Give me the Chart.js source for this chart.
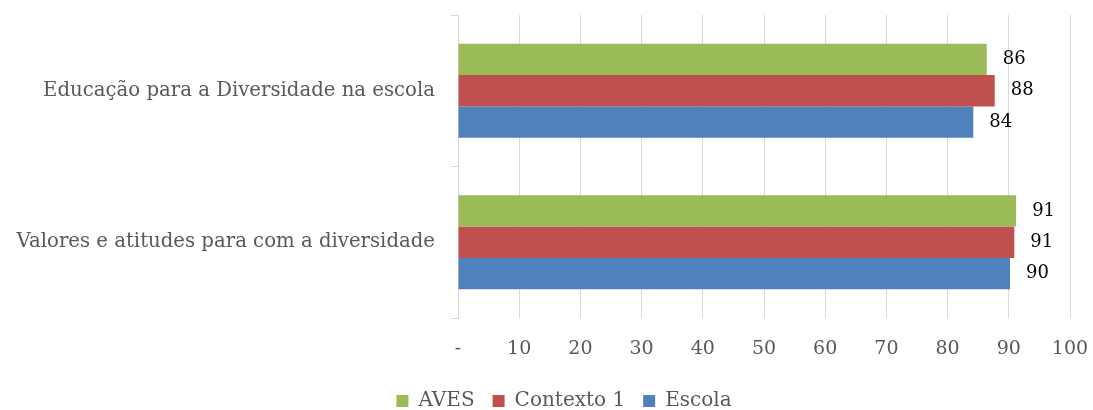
<!DOCTYPE html>
<html>
<head>
<meta charset="utf-8">
<script src="https://cdn.jsdelivr.net/npm/chart.js@4"></script>
<style>
  html, body { margin: 0; padding: 0; background: #fff; }
  #wrap { width: 1093px; height: 410px; }
</style>
</head>
<body>
<div id="wrap"><canvas id="chart"></canvas></div>
<script>
// categorias e séries
const categories = ['Educação para a Diversidade na escola', 'Valores e atitudes para com a diversidade'];
const seriesNames = ['AVES', 'Contexto 1', 'Escola'];
const avesValues = [86.4, 91.2];
const contextoValues = [87.7, 90.9];
const escolaValues = [84.2, 90.2];
const xTicks = [0, 10, 20, 30, 40, 50, 60, 70, 80, 90, 100];

const colors = ['#9BBB59', '#C0504D', '#4F81BD'];
const serif = "'DejaVu Serif', 'Liberation Serif', serif";

// plugin simples para escrever os valores à direita das barras
const valueLabels = {
  id: 'valueLabels',
  afterDatasetsDraw(chart) {
    const ctx = chart.ctx;
    ctx.save();
    ctx.fillStyle = '#000';
    ctx.font = `18px ${serif}`;
    ctx.textAlign = 'left';
    ctx.textBaseline = 'middle';
    chart.data.datasets.forEach((ds, i) => {
      const meta = chart.getDatasetMeta(i);
      meta.data.forEach((bar, j) => {
        ctx.fillText(Math.round(ds.data[j]), bar.x + 16, bar.y);
      });
    });
    ctx.restore();
  },
};

// altura fixa para a legenda, e legenda um pouco deslocada para a direita
const legendTweak = {
  id: 'legendTweak',
  beforeInit(chart) {
    const legend = chart.legend;
    if (!legend) return;
    const fit = legend.fit;
    legend.fit = function () {
      fit.call(this);
      this.height = 37;
    };
  },
  afterLayout(chart) {
    if (chart.legend) chart.legend.left = 58;
  },
};

new Chart(document.getElementById('chart'), {
  type: 'bar',
  data: {
    labels: categories,
    datasets: [
      { label: seriesNames[0], data: avesValues, backgroundColor: colors[0] },
      { label: seriesNames[1], data: contextoValues, backgroundColor: colors[1] },
      { label: seriesNames[2], data: escolaValues, backgroundColor: colors[2] },
    ],
  },
  options: {
    indexAxis: 'y',
    responsive: true,
    maintainAspectRatio: false,
    animation: false,
    layout: { padding: { top: 15, right: 23, left: 0, bottom: 0 } },
    datasets: {
      bar: { categoryPercentage: 0.62, barPercentage: 1.0 },
    },
    scales: {
      x: {
        min: 0,
        max: 100,
        afterBuildTicks: (scale) => { scale.ticks = xTicks.map((v) => ({ value: v })); },
        grid: { color: '#d9d9d9', drawTicks: false },
        border: { display: false },
        ticks: {
          color: '#595959',
          font: { family: serif, size: 19 },
          padding: 20,
          callback: (v) => (v === 0 ? '-' : v),
        },
        afterFit: (scale) => {
          scale.height = 55;
          scale.paddingLeft = 0;
          scale.paddingRight = 0;
        },
      },
      y: {
        grid: {
          offset: true,
          drawOnChartArea: false,
          drawTicks: true,
          tickLength: 7,
          color: '#d9d9d9',
        },
        border: { display: true, color: '#d9d9d9' },
        ticks: {
          color: '#595959',
          font: { family: serif, size: 19.7 },
          padding: 16,
        },
        afterFit: (scale) => {
          scale.width = 458;
          scale.paddingTop = 0;
          scale.paddingBottom = 0;
        },
      },
    },
    plugins: {
      legend: {
        position: 'bottom',
        labels: {
          color: '#595959',
          font: { family: serif, size: 20 },
          boxWidth: 12,
          boxHeight: 12,
          padding: 18,
        },
      },
      tooltip: { enabled: false },
    },
  },
  plugins: [valueLabels, legendTweak],
});
</script>
</body>
</html>
